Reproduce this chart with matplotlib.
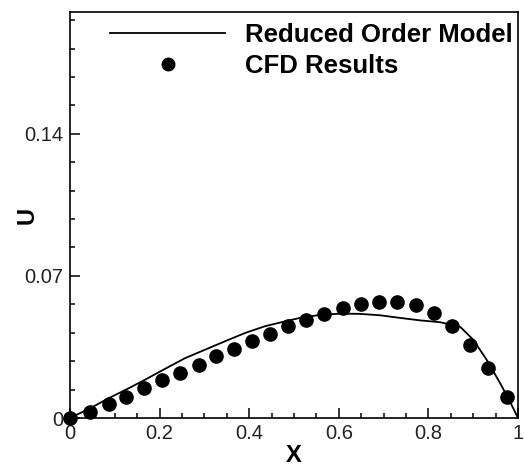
import matplotlib
matplotlib.use("Agg")
import matplotlib.pyplot as plt
from matplotlib.ticker import FixedLocator, MultipleLocator

# Reduced Order Model (line)
rom_x = [0.0, 0.045, 0.086, 0.127, 0.167, 0.212, 0.257, 0.301, 0.346, 0.391, 0.435,
         0.48, 0.513, 0.558, 0.603, 0.647, 0.692, 0.737, 0.781, 0.826, 0.871,
         0.900, 0.930, 0.960, 0.982, 1.0]
rom_u = [0.0, 0.0048, 0.0097, 0.0142, 0.0188, 0.0242, 0.0295, 0.0336, 0.0378, 0.0419, 0.0452,
         0.0476, 0.0493, 0.0508, 0.0514, 0.0513, 0.0506, 0.0493, 0.0481, 0.0472, 0.0449,
         0.0386, 0.0287, 0.0172, 0.0081, 0.0]

# CFD results (dots)
cfd_x = [0.0, 0.045, 0.086, 0.125, 0.165, 0.206, 0.246, 0.287, 0.326, 0.366, 0.407,
         0.446, 0.487, 0.527, 0.568, 0.609, 0.650, 0.690, 0.731, 0.772, 0.813,
         0.853, 0.893, 0.934, 0.975]
cfd_u = [0.0, 0.0028, 0.0068, 0.0105, 0.0147, 0.0185, 0.0224, 0.0262, 0.0303, 0.0341, 0.0378,
         0.0414, 0.0452, 0.0481, 0.0513, 0.0543, 0.0562, 0.0572, 0.0572, 0.0559, 0.0518,
         0.0452, 0.0361, 0.0246, 0.0102]

x_ticks = [0, 0.2, 0.4, 0.6, 0.8, 1.0]
x_tick_labels = ["0", "0.2", "0.4", "0.6", "0.8", "1"]
y_ticks = [0, 0.07, 0.14]
y_tick_labels = ["0", "0.07", "0.14"]

plt.rcParams['font.family'] = ['Liberation Sans', 'DejaVu Sans']

fig = plt.figure(figsize=(5.24, 4.68), dpi=100)
ax = fig.add_axes([70/524, 50/468, 448/524, 406/468])

ax.plot(rom_x, rom_u, color='black', lw=1.3, label='Reduced Order Model', zorder=2)
ax.plot(cfd_x, cfd_u, 'o', color='black', ms=9.5, label='CFD Results', zorder=3, clip_on=False)

ax.set_xlim(0, 1)
ax.set_ylim(0, 0.2)
ax.xaxis.set_major_locator(FixedLocator(x_ticks))
ax.set_xticklabels(x_tick_labels)
ax.yaxis.set_major_locator(FixedLocator(y_ticks))
ax.set_yticklabels(y_tick_labels)
ax.xaxis.set_minor_locator(MultipleLocator(0.05))
ax.yaxis.set_minor_locator(MultipleLocator(0.014))
ax.tick_params(which='both', direction='in', top=False, right=False,
               labelsize=14.5, labelcolor='#222222', width=1.1)
ax.tick_params(which='major', length=7)
ax.tick_params(axis='x', which='major', pad=4)
ax.tick_params(axis='y', which='major', pad=5)
ax.tick_params(which='minor', length=3.5)
for s in ax.spines.values():
    s.set_linewidth(1.2)

ax.set_xlabel('X', fontsize=17, fontweight='bold', va='center')
ax.xaxis.set_label_coords(0.5, (418 - 455) / 406)
ax.set_ylabel('U', fontsize=17, fontweight='bold', va='center')
ax.yaxis.set_label_coords((27 - 70) / 448, 0.5)

leg = ax.legend(loc='upper right', bbox_to_anchor=(1.022, 1.012), frameon=False,
                prop={'size': 18.5, 'weight': 'bold'}, handlelength=4.5,
                handletextpad=0.75, labelspacing=0.3, borderaxespad=0.2,
                numpoints=1, markerscale=0.95)

fig.savefig('out.png', dpi=100)
